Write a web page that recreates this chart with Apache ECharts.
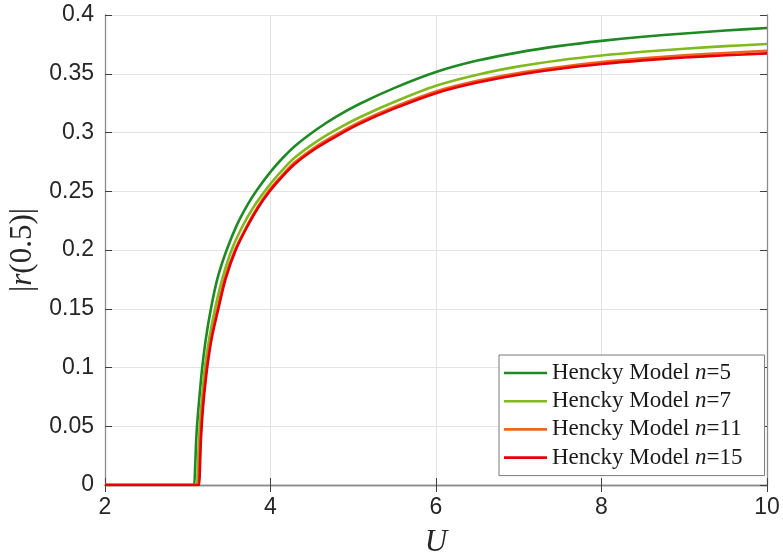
<!DOCTYPE html>
<html>
<head>
<meta charset="utf-8">
<script src="https://cdn.jsdelivr.net/npm/echarts@6/dist/echarts.min.js"></script>
<style>html,body{margin:0;padding:0;background:#fff}#c{width:783px;height:560px}</style>
</head>
<body>
<div id="c"></div>
<script>
// ---- data ----
const seriesNames = ['Hencky Model n=5', 'Hencky Model n=7', 'Hencky Model n=11', 'Hencky Model n=15'];
const xTicks = [2, 4, 6, 8, 10];
const yTicks = [0, 0.05, 0.1, 0.15, 0.2, 0.25, 0.3, 0.35, 0.4];

const uN5 = [2, 3.08, 3.087, 3.092, 3.1, 3.11, 3.125, 3.145, 3.175, 3.22, 3.28, 3.36, 3.47, 3.6, 3.72, 3.83, 4.0, 4.15, 4.3, 4.56, 4.8, 5.08, 5.5, 6.0, 6.5, 7.0, 7.5, 8.0, 8.5, 9.0, 9.5, 10];
const rN5 = [0, 0, 0, 0.02, 0.035, 0.048, 0.062, 0.078, 0.1, 0.125, 0.15, 0.176, 0.2, 0.2222, 0.2382, 0.2505, 0.2665, 0.2785, 0.2888, 0.3028, 0.3138, 0.3245, 0.338, 0.3515, 0.3612, 0.3682, 0.3737, 0.378, 0.3815, 0.3843, 0.3868, 0.389];

const uN7 = [2, 3.113, 3.12, 3.125, 3.133, 3.143, 3.157, 3.178, 3.207, 3.26, 3.33, 3.42, 3.53, 3.66, 3.79, 3.93, 4.0, 4.11, 4.29, 4.56, 4.8, 5.08, 5.5, 6.0, 6.5, 7.0, 7.5, 8.0, 8.5, 9.0, 9.5, 10];
const rN7 = [0, 0, 0, 0.02, 0.035, 0.048, 0.062, 0.078, 0.1, 0.125, 0.15, 0.176, 0.2, 0.22, 0.236, 0.25, 0.2563, 0.2655, 0.2785, 0.2925, 0.3027, 0.313, 0.3262, 0.3398, 0.3492, 0.3563, 0.3615, 0.3655, 0.3687, 0.3713, 0.3735, 0.3753];

const uN11 = [2, 3.133, 3.14, 3.143, 3.15, 3.16, 3.173, 3.193, 3.228, 3.282, 3.36, 3.45, 3.57, 3.71, 3.84, 3.975, 4.11, 4.29, 4.56, 4.8, 5.08, 5.5, 6.0, 6.5, 7.0, 7.5, 8.0, 8.5, 9.0, 9.5, 10];
const rN11 = [0, 0, 0, 0.02, 0.035, 0.048, 0.062, 0.078, 0.1, 0.125, 0.15, 0.176, 0.2, 0.22, 0.236, 0.25, 0.2612, 0.2744, 0.2885, 0.2985, 0.309, 0.322, 0.335, 0.344, 0.3507, 0.3558, 0.3599, 0.3631, 0.3656, 0.3677, 0.3696];

const uN15 = [2, 3.14, 3.147, 3.15, 3.157, 3.167, 3.18, 3.2, 3.235, 3.29, 3.37, 3.46, 3.58, 3.72, 3.85, 3.99, 4.11, 4.29, 4.56, 4.8, 5.08, 5.5, 6.0, 6.5, 7.0, 7.5, 8.0, 8.5, 9.0, 9.5, 10];
const rN15 = [0, 0, 0, 0.02, 0.035, 0.048, 0.062, 0.078, 0.1, 0.125, 0.15, 0.176, 0.2, 0.22, 0.236, 0.25, 0.26, 0.273, 0.287, 0.297, 0.3075, 0.3205, 0.3335, 0.3425, 0.3492, 0.3543, 0.3583, 0.3614, 0.3638, 0.3657, 0.3673];

const colors = ['#1f8a24', '#80ba1e', '#f0641a', '#e6000a'];
// ---------------------------------------

const xs = [uN5, uN7, uN11, uN15];
const ys = [rN5, rN7, rN11, rN15];
const pair = (u, r) => u.map((x, i) => [x, r[i]]);

const xMin = xTicks[0], xMax = xTicks[xTicks.length - 1], xInt = xTicks[1] - xTicks[0];
const yMin = yTicks[0], yMax = yTicks[yTicks.length - 1], yInt = 0.05;

const labelStyle = { color: '#262626', fontFamily: 'Liberation Sans', fontSize: 23 };
const tickStyle = { show: true, inside: true, length: 7, lineStyle: { color: '#404040', width: 1 } };
const lineAx = { show: true, lineStyle: { color: '#8c8c8c', width: 1.3 } };

const chart = echarts.init(document.getElementById('c'), null, { renderer: 'canvas' });
chart.setOption({
  animation: false,
  backgroundColor: '#fff',
  grid: { left: 105, right: 16, top: 15, bottom: 75, containLabel: false, outerBoundsMode: 'none' },
  xAxis: [
    {
      type: 'value', min: xMin, max: xMax, interval: xInt, position: 'bottom',
      axisLine: lineAx, axisTick: tickStyle,
      axisLabel: Object.assign({ margin: 11 }, labelStyle),
      splitLine: { show: true, lineStyle: { color: '#e3e3e3', width: 1 } },
      name: 'U', nameLocation: 'middle', nameGap: 42,
      nameTextStyle: { fontFamily: 'Liberation Serif', fontStyle: 'italic', fontSize: 31, color: '#262626' }
    },
    {
      type: 'value', min: xMin, max: xMax, interval: xInt, position: 'top',
      axisLine: lineAx, axisTick: tickStyle, axisLabel: { show: false }, splitLine: { show: false }
    }
  ],
  yAxis: [
    {
      type: 'value', min: yMin, max: yMax, interval: yInt, position: 'left',
      axisLine: lineAx, axisTick: tickStyle,
      axisLabel: Object.assign({ margin: 11 }, labelStyle),
      splitLine: { show: true, lineStyle: { color: '#e3e3e3', width: 1 } },
      name: '{b||}{i|r}{b|(0.5)|}', nameLocation: 'middle', nameGap: 62,
      nameTextStyle: {
        color: '#262626',
        rich: {
          b: { fontFamily: 'Liberation Serif', fontSize: 31, color: '#262626' },
          i: { fontFamily: 'Liberation Serif', fontStyle: 'italic', fontSize: 31, color: '#262626' }
        }
      }
    },
    {
      type: 'value', min: yMin, max: yMax, interval: yInt, position: 'right',
      axisLine: lineAx, axisTick: tickStyle, axisLabel: { show: false }, splitLine: { show: false }
    }
  ],
  legend: {
    orient: 'vertical', left: 499, top: 355,
    padding: [6, 22, 6, 5], itemGap: 4.2, itemWidth: 43, itemHeight: 2.6,
    icon: 'rect',
    backgroundColor: '#fff', borderColor: '#7a7a7a', borderWidth: 1, borderRadius: 0,
    data: seriesNames,
    formatter: function (name) {
      const m = name.match(/^(.*)n=(\d+)$/);
      return '{t|' + m[1] + '}{i|n}{t|=' + m[2] + '}';
    },
    textStyle: {
      lineHeight: 24,
      rich: {
        t: { fontFamily: 'Liberation Serif', fontSize: 23, color: '#1a1a1a', lineHeight: 24 },
        i: { fontFamily: 'Liberation Serif', fontStyle: 'italic', fontSize: 23, color: '#1a1a1a', lineHeight: 24 }
      }
    }
  },
  series: seriesNames.map((nm, k) => ({
    name: nm, type: 'line', xAxisIndex: 0, yAxisIndex: 0,
    data: pair(xs[k], ys[k]),
    symbol: 'none', smooth: 0.3,
    lineStyle: { color: colors[k], width: 2.6 },
    itemStyle: { color: colors[k] },
    z: 2 + k
  }))
});
</script>
</body>
</html>
